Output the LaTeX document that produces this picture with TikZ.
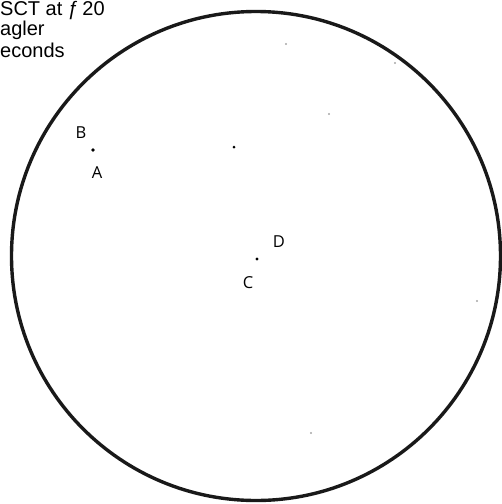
\documentclass[tikz,border=0pt]{standalone}
\usepackage{fontspec}
\setmainfont{Liberation Sans}
\newfontfamily\lblfont{Open Sans}
\begin{document}
\begin{tikzpicture}[x=1pt,y=-1pt,
  star/.style={circle,fill=black,inner sep=0pt,minimum size=3.6pt},
  faint/.style={circle,fill=black!35,inner sep=0pt,minimum size=2.2pt},
  lbl/.style={font=\lblfont\fontsize{16.5}{16.5}\selectfont,inner sep=0pt,text=black},
  note/.style={font=\fontsize{20}{22}\selectfont,inner sep=0pt,anchor=base west}]
\useasboundingbox (0,0) rectangle (502,504);
\draw[line width=3.4pt,black!90] (256,256) circle (244.5);
\node[note] (t1) at (0,15) {SCT at ƒ\,20};
\node[note] (t2) at (0,35.5) {agler};
\node[note] (t3) at (0,57) {econds};
\node[star] (ab) at (93,150) {};
\node[lbl] (B) at (81,133) {B};
\node[lbl] (A) at (97,173) {A};
\node[star,minimum size=3.4pt] (cd) at (257,259) {};
\node[lbl] (D) at (279,242) {D};
\node[lbl] (C) at (248,283) {C};
\node[star,minimum size=3pt] (s1) at (234,147) {};
\node[faint] (f1) at (286,44) {};
\node[faint] (f2) at (395,63) {};
\node[faint] (f3) at (329,114) {};
\node[faint] (f4) at (477,301) {};
\node[faint] (f5) at (311,433) {};
\end{tikzpicture}
\end{document}
